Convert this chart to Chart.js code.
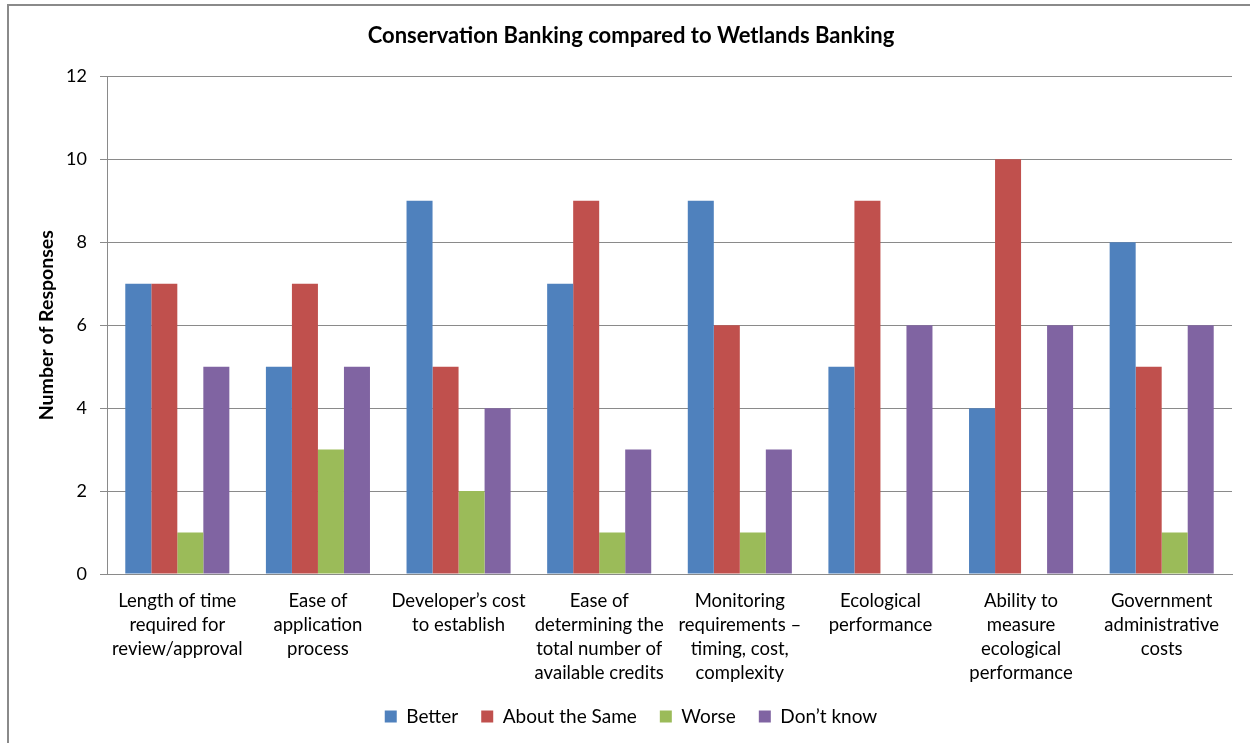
<!DOCTYPE html>
<html>
<head>
<meta charset="utf-8">
<script src="https://cdn.jsdelivr.net/npm/chart.js@4/dist/chart.umd.min.js"></script>
<style>
  html, body { margin: 0; padding: 0; background: #fff; overflow: hidden; }
  #wrap { position: relative; width: 1250px; height: 743px; }
  #frame {
    position: absolute; left: 7px; top: 4px; width: 1260px; height: 760px;
    border: 2px solid #8a8a8a; pointer-events: none;
  }
</style>
</head>
<body>
<div id="wrap">
  <canvas id="chart" width="1250" height="743"></canvas>
  <div id="frame"></div>
</div>
<script>
// categories (multi-line labels, as wrapped in the original)
const categories = [
  ["Length of time", "required for", "review/approval"],
  ["Ease of", "application", "process"],
  ["Developer’s cost", "to establish"],
  ["Ease of", "determining the", "total number of", "available credits"],
  ["Monitoring", "requirements –", "timing, cost,", "complexity"],
  ["Ecological", "performance"],
  ["Ability to", "measure", "ecological", "performance"],
  ["Government", "administrative", "costs"]
];

const better = [7, 5, 9, 7, 9, 5, 4, 8];
const aboutSame = [7, 7, 5, 9, 6, 9, 10, 5];
const worse = [1, 3, 2, 1, 1, 0, 0, 1];
const dontKnow = [5, 5, 4, 3, 3, 6, 6, 6];

const yTicks = [0, 2, 4, 6, 8, 10, 12];

const FONT = "Lato, 'Open Sans', sans-serif";
const gridGray = "#8a8a8a";

const ctx = document.getElementById("chart").getContext("2d");

new Chart(ctx, {
  type: "bar",
  data: {
    labels: categories,
    datasets: [
      { label: "Better", data: better, backgroundColor: "#4F81BD" },
      { label: "About the Same", data: aboutSame, backgroundColor: "#C0504D" },
      { label: "Worse", data: worse, backgroundColor: "#9BBB59" },
      { label: "Don’t know", data: dontKnow, backgroundColor: "#8064A2" }
    ]
  },
  options: {
    responsive: false,
    animation: false,
    categoryPercentage: 0.74,
    barPercentage: 1.0,
    layout: { padding: { left: 30, right: 18, top: 10, bottom: 7 } },
    plugins: {
      title: {
        display: true,
        text: "Conservation Banking compared to Wetlands Banking",
        color: "#000",
        font: { family: FONT, size: 22, weight: "bold" },
        padding: { top: 13, bottom: 27 }
      },
      legend: {
        position: "bottom",
        labels: {
          color: "#000",
          font: { family: FONT, size: 19 },
          boxWidth: 12,
          boxHeight: 12,
          padding: 23
        }
      },
      tooltip: { enabled: false }
    },
    scales: {
      x: {
        grid: { display: false },
        border: { display: true, color: gridGray, width: 1 },
        ticks: {
          color: "#000",
          font: { family: FONT, size: 18.5, lineHeight: 1.3 },
          maxRotation: 0,
          autoSkip: false,
          padding: 7
        },
        afterFit: (scale) => { scale.height = 110; }
      },
      y: {
        min: 0,
        max: 12,
        afterBuildTicks: (scale) => { scale.ticks = yTicks.map(v => ({ value: v })); },
        grid: { color: gridGray, lineWidth: 1, tickLength: 7, drawTicks: true },
        border: { display: true, color: gridGray, width: 1 },
        ticks: {
          color: "#000",
          font: { family: FONT, size: 18 },
          padding: 13
        },
        title: {
          display: true,
          text: "Number of Responses",
          color: "#000",
          font: { family: FONT, size: 19.5, weight: "bold" },
          padding: { top: 5, bottom: 0 }
        },
        afterFit: (scale) => { scale.width = 77; }
      }
    }
  }
});
</script>
</body>
</html>
